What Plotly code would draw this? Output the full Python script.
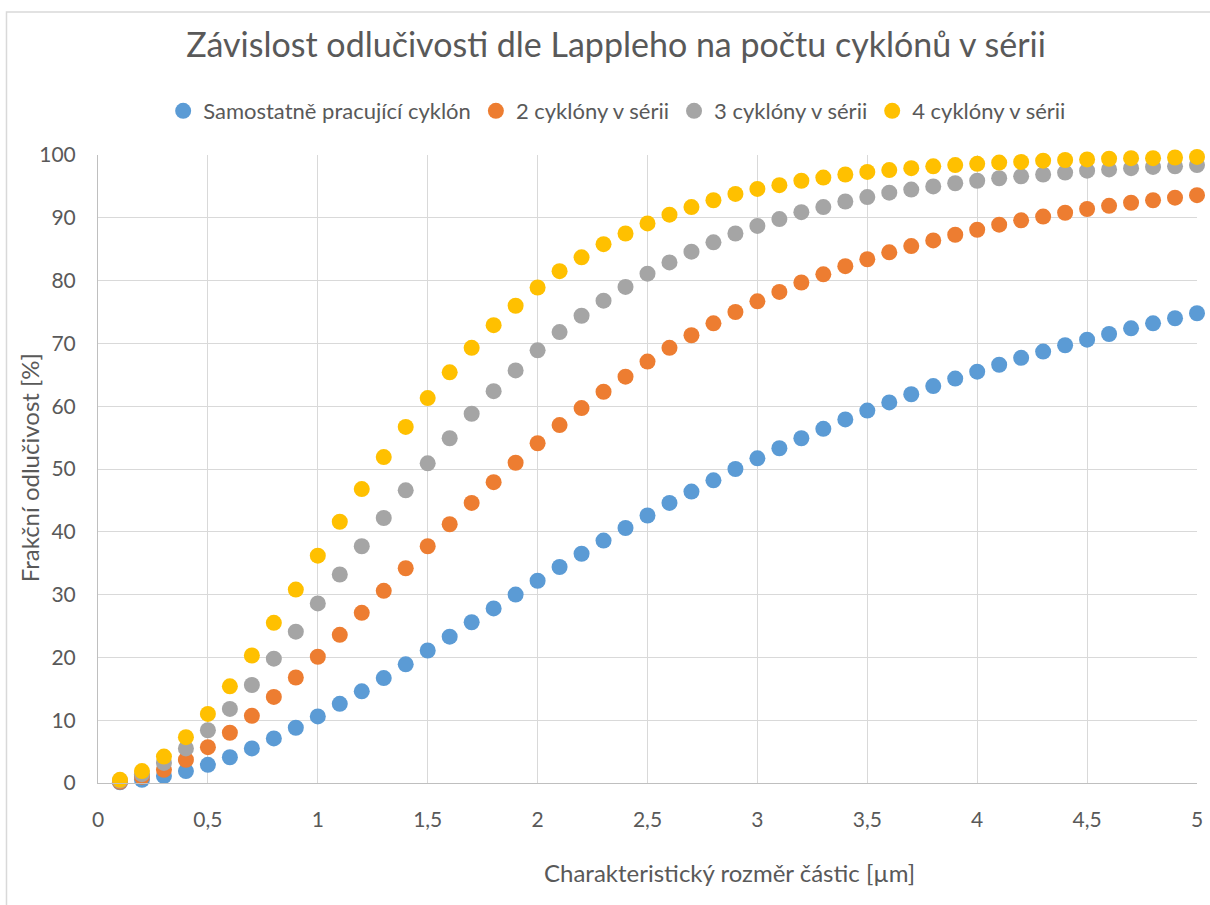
import plotly.graph_objects as go

# Particle size [µm]
particle_size = [round(0.1 * i, 1) for i in range(1, 51)]

# Fractional separation efficiency [%] per configuration
single_cyclone = [
    0.1, 0.5, 1.1, 1.9, 2.9, 4.1, 5.5, 7.1, 8.8, 10.6,
    12.6, 14.6, 16.7, 18.9, 21.1, 23.3, 25.6, 27.8, 30.0, 32.2,
    34.4, 36.5, 38.6, 40.6, 42.6, 44.6, 46.4, 48.2, 50.0, 51.7,
    53.3, 54.9, 56.4, 57.9, 59.3, 60.6, 61.9, 63.2, 64.4, 65.5,
    66.6, 67.7, 68.7, 69.7, 70.6, 71.5, 72.4, 73.2, 74.0, 74.8,
]
two_cyclones = [
    0.2, 1.0, 2.1, 3.7, 5.7, 8.0, 10.7, 13.7, 16.8, 20.1,
    23.6, 27.1, 30.6, 34.2, 37.7, 41.2, 44.6, 47.9, 51.0, 54.1,
    57.0, 59.7, 62.3, 64.7, 67.1, 69.3, 71.3, 73.2, 75.0, 76.7,
    78.2, 79.7, 81.0, 82.3, 83.4, 84.5, 85.5, 86.4, 87.3, 88.1,
    88.9, 89.6, 90.2, 90.8, 91.4, 91.9, 92.4, 92.8, 93.2, 93.6,
]
three_cyclones = [
    0.4, 1.4, 3.2, 5.5, 8.4, 11.8, 15.6, 19.8, 24.1, 28.6,
    33.2, 37.7, 42.2, 46.6, 50.9, 54.9, 58.8, 62.4, 65.7, 68.9,
    71.8, 74.4, 76.8, 79.0, 81.1, 82.9, 84.6, 86.1, 87.5, 88.7,
    89.8, 90.9, 91.7, 92.6, 93.3, 94.0, 94.5, 95.0, 95.5, 95.9,
    96.3, 96.6, 96.9, 97.2, 97.5, 97.7, 97.9, 98.1, 98.2, 98.4,
]
four_cyclones = [
    0.5, 1.9, 4.2, 7.3, 11.0, 15.4, 20.3, 25.5, 30.8, 36.2,
    41.6, 46.8, 51.9, 56.7, 61.3, 65.4, 69.3, 72.9, 76.0, 78.9,
    81.5, 83.7, 85.8, 87.5, 89.1, 90.5, 91.7, 92.8, 93.8, 94.6,
    95.2, 95.9, 96.4, 96.9, 97.3, 97.6, 97.9, 98.2, 98.4, 98.6,
    98.8, 98.9, 99.1, 99.2, 99.3, 99.4, 99.5, 99.5, 99.6, 99.7,
]

series_names = [
    "Samostatně pracující cyklón",
    "2 cyklóny v sérii",
    "3 cyklóny v sérii",
    "4 cyklóny v sérii",
]
series_values = [single_cyclone, two_cyclones, three_cyclones, four_cyclones]
series_colors = ["#5B9BD5", "#ED7D31", "#A5A5A5", "#FFC000"]

x_ticks = [0, 0.5, 1, 1.5, 2, 2.5, 3, 3.5, 4, 4.5, 5]
y_ticks = list(range(0, 101, 10))

FONT = "Lato, 'Open Sans', sans-serif"
TEXT = "#595959"

fig = go.Figure()
for name, vals, col in zip(series_names, series_values, series_colors):
    fig.add_trace(go.Scatter(
        x=particle_size, y=vals, name=name, mode="markers",
        marker=dict(color=col, size=16, line=dict(width=0)),
        cliponaxis=False,
    ))

# plot-area geometry in pixels (used for paper-relative placement)
L, R, T, B = 98, 7, 155, 122
W, H = 1210, 905
pw, ph = W - L - R, H - T - B

def px_x(p):
    return (p - L) / pw

def px_y(p):
    return (H - B - p) / ph

fig.update_layout(
    width=W, height=H,
    margin=dict(l=L, r=R, t=T, b=B),
    paper_bgcolor="white", plot_bgcolor="white",
    separators=", ",
    font=dict(family=FONT, color=TEXT, size=21),
    title=dict(
        text="Závislost odlučivosti dle Lappleho na počtu cyklónů v sérii",
        xref="container", yref="container",
        x=616 / W, xanchor="center", y=1 - 45 / H, yanchor="middle",
        font=dict(size=34, color=TEXT, family=FONT),
    ),
    showlegend=True,
    legend=dict(
        orientation="h", x=px_x(620), xanchor="center",
        y=px_y(111), yanchor="middle",
        font=dict(size=22, color=TEXT), itemsizing="trace",
        itemwidth=30, tracegroupgap=0, bgcolor="rgba(0,0,0,0)",
    ),
    xaxis=dict(
        range=[0, 5], tickvals=x_ticks, showgrid=True, gridcolor="#D9D9D9",
        gridwidth=1, zeroline=False, showline=True, linecolor="#BFBFBF",
        linewidth=1, ticks="", ticklabelstandoff=18,
        ticklabeloverflow="allow",
        tickfont=dict(size=21, color=TEXT),
    ),
    yaxis=dict(
        range=[0, 100], tickvals=y_ticks, showgrid=True, gridcolor="#D9D9D9",
        gridwidth=1, zeroline=False, showline=True, linecolor="#BFBFBF",
        linewidth=1, ticks="", ticklabelstandoff=17,
        tickfont=dict(size=21, color=TEXT),
    ),
    annotations=[
        dict(text="Charakteristický rozměr částic [µm]", xref="paper",
             yref="paper", x=px_x(733), y=px_y(872), xanchor="center",
             yanchor="middle", showarrow=False,
             font=dict(size=24, color=TEXT, family=FONT)),
        dict(text="Frakční odlučivost [%]", xref="paper", yref="paper",
             x=px_x(30), y=px_y(468), xanchor="center", yanchor="middle",
             textangle=-90, showarrow=False,
             font=dict(size=24, color=TEXT, family=FONT)),
    ],
    shapes=[
        dict(type="rect", xref="paper", yref="paper",
             x0=px_x(6), x1=px_x(1230), y0=px_y(930), y1=px_y(12),
             line=dict(color="#D9D9D9", width=1.5), layer="below"),
    ],
)

fig.write_html("out.html")
